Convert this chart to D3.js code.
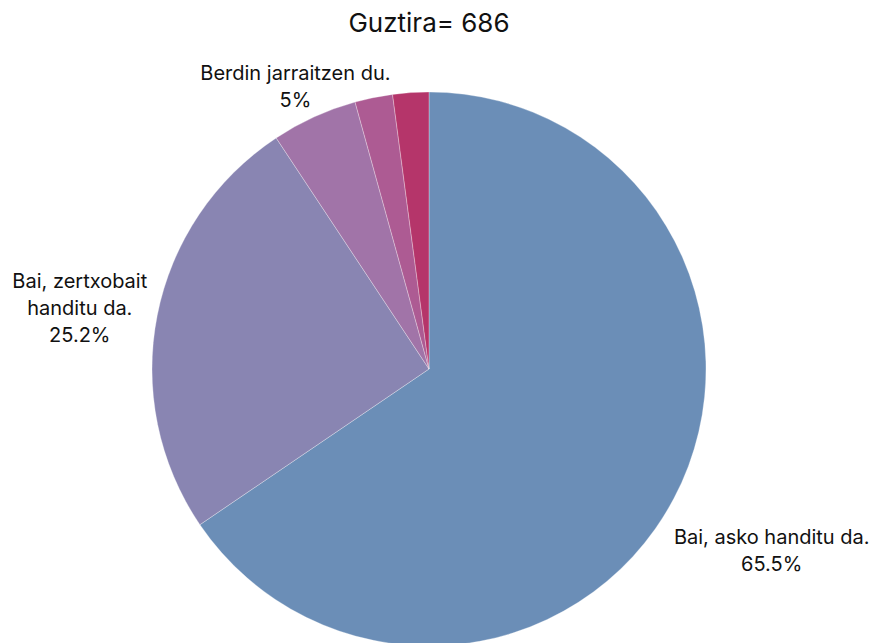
<!DOCTYPE html>
<html>
<head>
<meta charset="utf-8">
<script src="https://cdn.jsdelivr.net/npm/d3@7"></script>
<style>
  html, body { margin: 0; padding: 0; background: #fff; }
  svg { display: block; font-family: Inter, "Noto Sans", sans-serif; }
</style>
</head>
<body>
<svg id="chart" width="875" height="643"></svg>
<script>
const title = "Guztira= 686";
const categories = [
  "Bai, asko handitu da.",
  "Bai, zertxobait handitu da.",
  "Berdin jarraitzen du.",
  "Gutxitu egin da.",
  "Ez dakit / Ez dut erantzuten."
];
const values = [65.5, 25.2, 5.0, 2.2, 2.1];
const colors = ["#6b8eb7", "#8985b2", "#a174a8", "#ad5b93", "#b5356a"];
const showLabel = [true, true, true, false, false];

const W = 875, H = 643;
const cx = 429, cy = 369, R = 277;
const svg = d3.select("#chart");

svg.append("text")
  .attr("x", cx).attr("y", 32)
  .attr("text-anchor", "middle")
  .attr("font-size", 26)
  .attr("fill", "#111")
  .text(title);

const data = categories.map((c, i) => ({ name: c, value: values[i], color: colors[i], show: showLabel[i], i }));

const pie = d3.pie().value(d => d.value).sort(null).startAngle(0).endAngle(2 * Math.PI);
const arcs = pie(data);
const arc = d3.arc().innerRadius(0).outerRadius(R);

const g = svg.append("g").attr("transform", `translate(${cx},${cy})`);
g.selectAll("path").data(arcs).enter().append("path")
  .attr("d", arc)
  .attr("fill", d => d.data.color)
  .attr("stroke", "rgba(255,255,255,0.5)")
  .attr("stroke-width", 0.6);

// label layout (radius factor, vertical nudge and wrap width per labelled slice)
const labelRadius = [1.40, 1.285, 1.12];
const labelNudgeY = [0, 8, 0];
const labelNudgeX = [0, 0, -5];
const wrapWidth = [280, 150, 280];
const fontSize = 20;
const lineH = 27;

function wrapWords(text, maxW, fs) {
  const ctx = document.createElement("canvas").getContext("2d");
  ctx.font = `${fs}px Inter`;
  const words = text.split(" ");
  const lines = [];
  let cur = "";
  words.forEach(w => {
    const t = cur ? cur + " " + w : w;
    if (ctx.measureText(t).width > maxW && cur) { lines.push(cur); cur = w; }
    else cur = t;
  });
  if (cur) lines.push(cur);
  return lines;
}

arcs.forEach((a, k) => {
  if (!a.data.show) return;
  const mid = (a.startAngle + a.endAngle) / 2;
  const rr = R * labelRadius[k];
  const lx = rr * Math.sin(mid) + labelNudgeX[k], ly = -rr * Math.cos(mid) + labelNudgeY[k];
  const lines = wrapWords(a.data.name, wrapWidth[k], fontSize);
  const pct = d3.format(".1~f")(a.data.value) + "%";
  lines.push(pct);
  const n = lines.length;
  const t = g.append("text")
    .attr("text-anchor", "middle")
    .attr("font-size", fontSize)
    .attr("fill", "#111");
  lines.forEach((ln, j) => {
    t.append("tspan")
      .attr("x", lx)
      .attr("y", ly + (j - (n - 1) / 2) * lineH + 7)
      .text(ln);
  });
});
</script>
</body>
</html>
